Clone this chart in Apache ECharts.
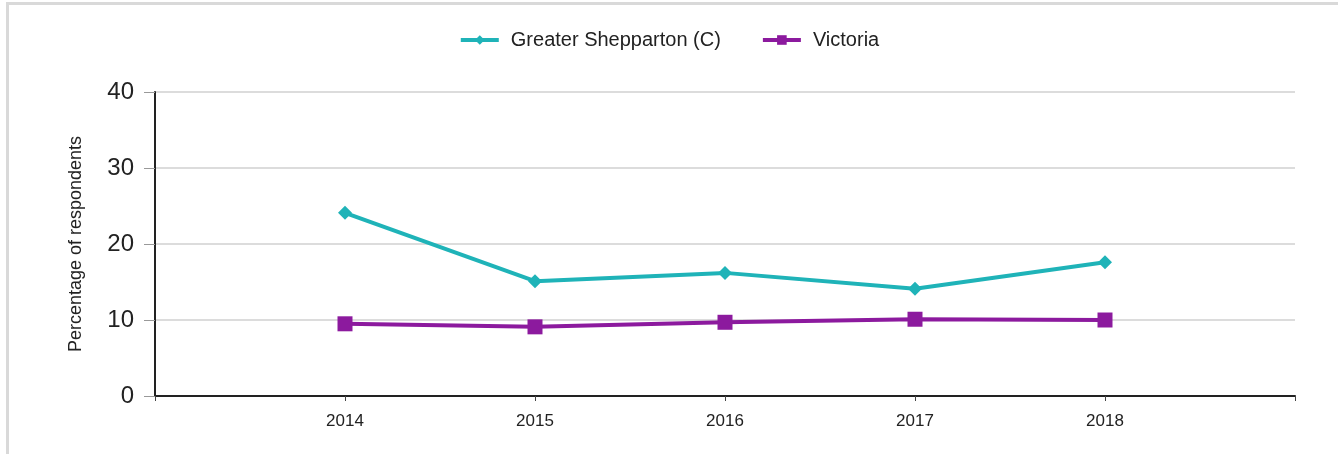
<!DOCTYPE html>
<html>
<head>
<meta charset="utf-8">
<script src="https://cdn.jsdelivr.net/npm/echarts@6/dist/echarts.min.js"></script>
<style>
html,body{margin:0;padding:0;background:#fff;}
#frame{position:absolute;left:6px;top:2px;width:1332px;height:452px;border-top:3px solid #d9d9d9;border-left:3px solid #d9d9d9;box-sizing:border-box;}
#chart{position:absolute;left:0;top:0;width:1338px;height:454px;}
</style>
</head>
<body>
<div id="frame"></div>
<div id="chart"></div>
<script>
const categories = ['', '2014', '2015', '2016', '2017', '2018', ''];
const shepparton = [null, 24.1, 15.1, 16.2, 14.1, 17.6, null];
const victoria = [null, 9.5, 9.1, 9.7, 10.1, 10.0, null];
const yTicks = { min: 0, max: 40, interval: 10 };

const font = 'Liberation Sans, Arial';
const chart = echarts.init(document.getElementById('chart'));
chart.setOption({
  animation: false,
  backgroundColor: 'transparent',
  legend: {
    top: 25,
    left: 'center',
    itemWidth: 38,
    itemHeight: 12,
    itemGap: 40,
    lineStyle: { width: 4 },
    textStyle: { fontFamily: font, fontSize: 20, color: '#222', padding: [0, 0, 0, 7] },
    data: ['Greater Shepparton (C)', 'Victoria']
  },
  grid: { left: 155, right: 43, top: 92, bottom: 58 },
  xAxis: {
    type: 'category',
    data: categories,
    boundaryGap: false,
    axisLine: { lineStyle: { color: '#222', width: 2 } },
    axisTick: { show: true, length: 5, lineStyle: { color: '#444' } },
    axisLabel: { fontFamily: font, fontSize: 17, color: '#222', margin: 17 },
    splitLine: { show: false }
  },
  yAxis: {
    type: 'value',
    min: yTicks.min, max: yTicks.max, interval: yTicks.interval,
    name: 'Percentage of respondents',
    nameLocation: 'middle',
    nameRotate: 90,
    nameGap: 70,
    nameTextStyle: { fontFamily: font, fontSize: 18, color: '#222' },
    axisLine: { show: true, lineStyle: { color: '#222', width: 2 } },
    axisTick: { show: true, length: 11, lineStyle: { color: '#999' } },
    axisLabel: { fontFamily: font, fontSize: 24, color: '#222', margin: 21 },
    splitLine: { show: true, lineStyle: { color: '#dcdcdc', width: 2 } }
  },
  series: [
    {
      name: 'Greater Shepparton (C)',
      type: 'line',
      data: shepparton,
      symbol: 'diamond',
      symbolSize: 14,
      lineStyle: { color: '#1fb3b8', width: 4 },
      itemStyle: { color: '#1fb3b8' }
    },
    {
      name: 'Victoria',
      type: 'line',
      data: victoria,
      symbol: 'rect',
      symbolSize: 15,
      lineStyle: { color: '#8c1a9e', width: 4 },
      itemStyle: { color: '#8c1a9e' }
    }
  ]
});
</script>
</body>
</html>
